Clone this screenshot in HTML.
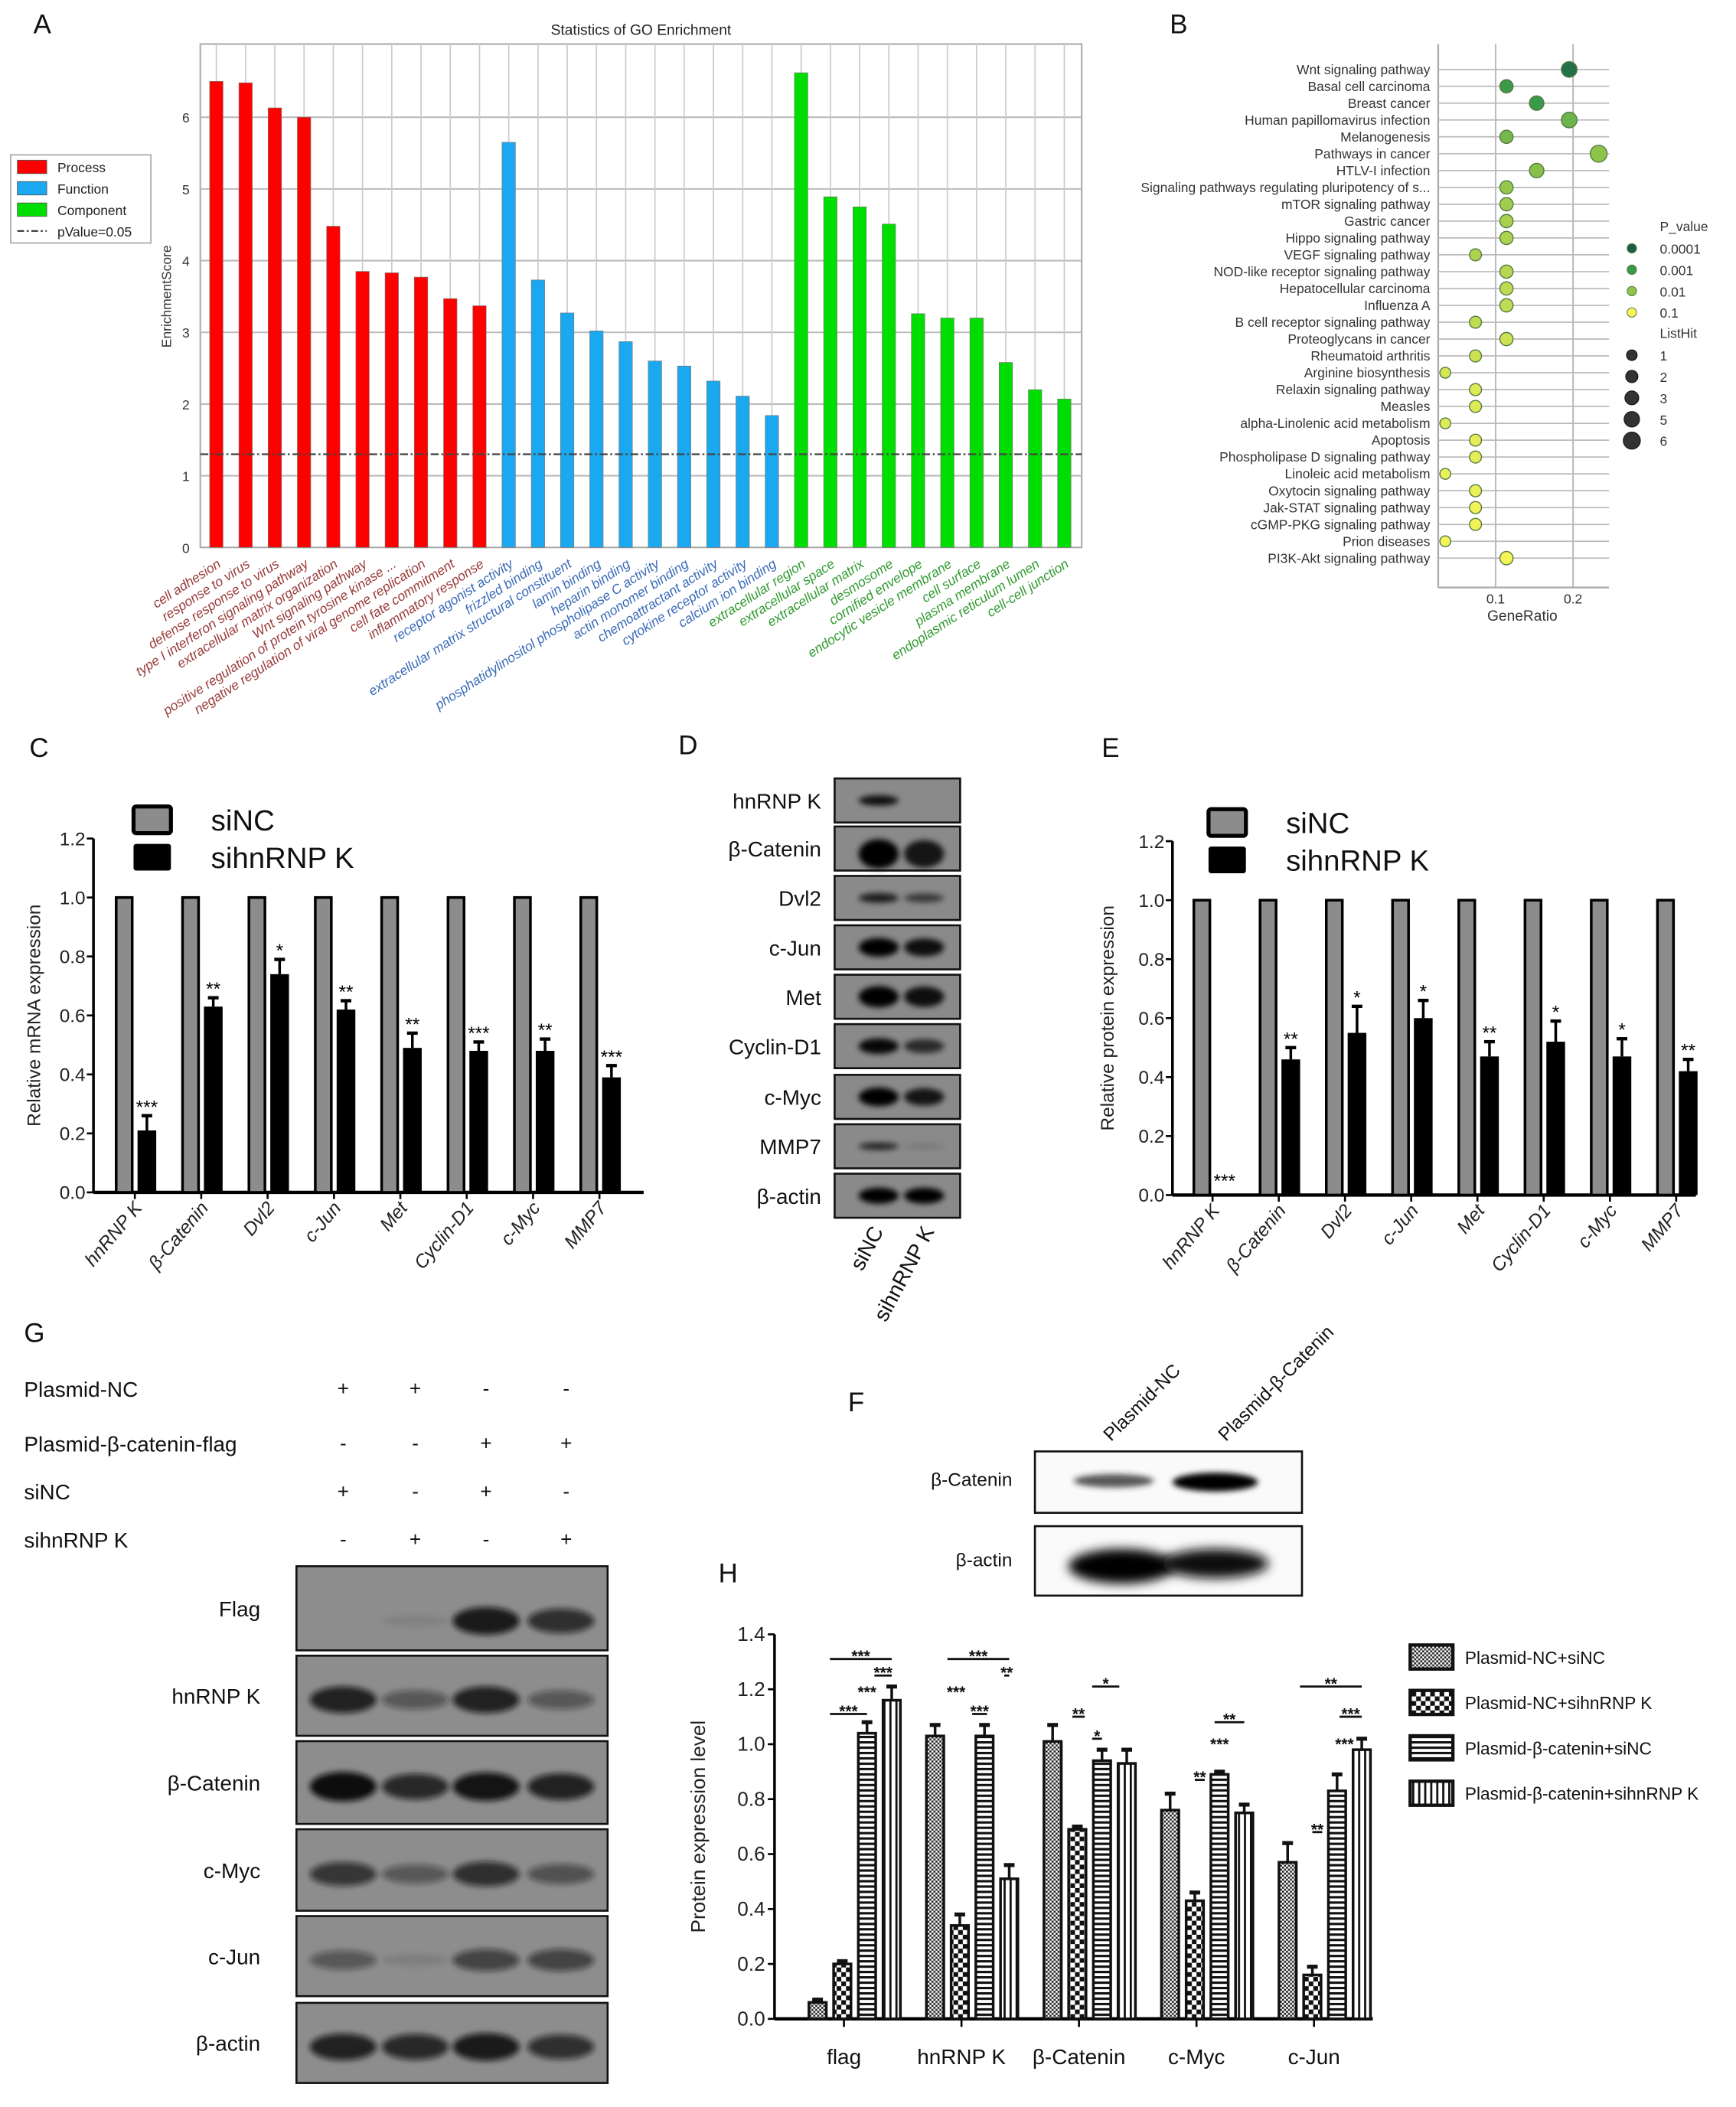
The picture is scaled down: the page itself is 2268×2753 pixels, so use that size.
<!DOCTYPE html>
<html><head><meta charset="utf-8"><style>
html,body{margin:0;padding:0;background:#fff;}
svg{display:block;font-family:"Liberation Sans",Arial,sans-serif;}
</style></head><body>
<svg id="fig" width="2268" height="2753" viewBox="0 0 1300 1578" preserveAspectRatio="none" xmlns="http://www.w3.org/2000/svg">
<defs>
<filter id="blur1" x="-30%" y="-80%" width="160%" height="260%"><feGaussianBlur stdDeviation="2.2"/></filter>
<filter id="blur2" x="-30%" y="-80%" width="160%" height="260%"><feGaussianBlur stdDeviation="4"/></filter>
<pattern id="pat0" width="3" height="3" patternUnits="userSpaceOnUse"><rect width="3" height="3" fill="#fff"/><rect width="1.5" height="1.5" fill="#222"/><rect x="1.5" y="1.5" width="1.5" height="1.5" fill="#222"/></pattern>
<pattern id="pat1" width="7" height="7" patternUnits="userSpaceOnUse"><rect width="7" height="7" fill="#fff"/><rect width="3.5" height="3.5" fill="#111"/><rect x="3.5" y="3.5" width="3.5" height="3.5" fill="#111"/></pattern>
<pattern id="pat2" width="4" height="4" patternUnits="userSpaceOnUse"><rect width="4" height="4" fill="#fff"/><rect width="4" height="1.8" fill="#111"/></pattern>
<pattern id="pat3" width="4.5" height="4" patternUnits="userSpaceOnUse"><rect width="4.5" height="4" fill="#fff"/><rect width="1.6" height="4" fill="#111"/></pattern>
</defs>
<g id="root"></g>
</svg>
<script>
// ---------- DATA ----------
const goTerms = ["cell adhesion","response to virus","defense response to virus","type I interferon signaling pathway","extracellular matrix organization","Wnt signaling pathway","positive regulation of protein tyrosine kinase ...","negative regulation of viral genome replication","cell fate commitment","inflammatory response","receptor agonist activity","frizzled binding","extracellular matrix structural constituent","lamin binding","heparin binding","phosphatidylinositol phospholipase C activity","actin monomer binding","chemoattractant activity","cytokine receptor activity","calcium ion binding","extracellular region","extracellular space","extracellular matrix","desmosome","cornified envelope","endocytic vesicle membrane","cell surface","plasma membrane","endoplasmic reticulum lumen","cell-cell junction"];
const goScores = [6.5,6.48,6.13,6.0,4.48,3.85,3.83,3.77,3.47,3.37,5.65,3.73,3.27,3.02,2.87,2.6,2.53,2.32,2.11,1.84,6.62,4.89,4.75,4.51,3.26,3.2,3.2,2.58,2.2,2.07];
const goClass = [0,0,0,0,0,0,0,0,0,0,1,1,1,1,1,1,1,1,1,1,2,2,2,2,2,2,2,2,2,2];
const goTicks = [0,1,2,3,4,5,6];
const goThreshold = 1.3;

const keggTerms = ["Wnt signaling pathway","Basal cell carcinoma","Breast cancer","Human papillomavirus infection","Melanogenesis","Pathways in cancer","HTLV-I infection","Signaling pathways regulating pluripotency of s...","mTOR signaling pathway","Gastric cancer","Hippo signaling pathway","VEGF signaling pathway","NOD-like receptor signaling pathway","Hepatocellular carcinoma","Influenza A","B cell receptor signaling pathway","Proteoglycans in cancer","Rheumatoid arthritis","Arginine biosynthesis","Relaxin signaling pathway","Measles","alpha-Linolenic acid metabolism","Apoptosis","Phospholipase D signaling pathway","Linoleic acid metabolism","Oxytocin signaling pathway","Jak-STAT signaling pathway","cGMP-PKG signaling pathway","Prion diseases","PI3K-Akt signaling pathway"];
const keggRatio = [0.195,0.114,0.153,0.195,0.114,0.233,0.153,0.114,0.114,0.114,0.114,0.074,0.114,0.114,0.114,0.074,0.114,0.074,0.035,0.074,0.074,0.035,0.074,0.074,0.035,0.074,0.074,0.074,0.035,0.114];
const keggP = [0.0002,0.001,0.001,0.004,0.005,0.01,0.008,0.012,0.015,0.018,0.02,0.02,0.025,0.03,0.03,0.03,0.04,0.04,0.05,0.06,0.06,0.06,0.07,0.07,0.08,0.08,0.09,0.09,0.1,0.1];
const keggHits = [5,3,4,5,3,6,4,3,3,3,3,2,3,3,3,2,3,2,1,2,2,1,2,2,1,2,2,2,1,3];
const keggXTicks = [0.1,0.2];

const genesC = ["hnRNP K","β-Catenin","Dvl2","c-Jun","Met","Cyclin-D1","c-Myc","MMP7"];
const mrnaNC = [1,1,1,1,1,1,1,1];
const mrnaKD = [0.21,0.63,0.74,0.62,0.49,0.48,0.48,0.39];
const mrnaErr = [0.05,0.03,0.05,0.03,0.05,0.03,0.04,0.04];
const mrnaStars = ["***","**","*","**","**","***","**","***"];
const protNC = [1,1,1,1,1,1,1,1];
const protKD = [0,0.46,0.55,0.6,0.47,0.52,0.47,0.42];
const protErr = [0,0.04,0.09,0.06,0.05,0.07,0.06,0.04];
const protStars = ["***","**","*","*","**","*","*","**"];
const ticksC = [0,0.2,0.4,0.6,0.8,1.0,1.2];

const blotD = ["hnRNP K","β-Catenin","Dvl2","c-Jun","Met","Cyclin-D1","c-Myc","MMP7","β-actin"];
const blotDLane1 = [0.9,1,0.8,1,1,0.95,1,0.75,1];
const blotDLane2 = [0,0.85,0.6,0.9,0.9,0.7,0.85,0.15,1];

const condNames = ["Plasmid-NC","Plasmid-β-catenin-flag","siNC","sihnRNP K"];
const condSigns = [["+","+","-","-"],["-","-","+","+"],["+","-","+","-"],["-","+","-","+"]];
const blotG = ["Flag","hnRNP K","β-Catenin","c-Myc","c-Jun","β-actin"];
const blotGInt = [[0,0.08,0.9,0.75],[0.85,0.45,0.85,0.45],[1,0.8,0.95,0.85],[0.7,0.45,0.75,0.5],[0.45,0.1,0.6,0.6],[0.85,0.8,0.9,0.75]];

const groupsH = ["flag","hnRNP K","β-Catenin","c-Myc","c-Jun"];
const seriesNames = ["Plasmid-NC+siNC","Plasmid-NC+sihnRNP K","Plasmid-β-catenin+siNC","Plasmid-β-catenin+sihnRNP K"];
const hS0 = [0.06,1.03,1.01,0.76,0.57];
const hS1 = [0.2,0.34,0.69,0.43,0.16];
const hS2 = [1.04,1.03,0.94,0.89,0.83];
const hS3 = [1.16,0.51,0.93,0.75,0.98];
const hE0 = [0.01,0.04,0.06,0.06,0.07];
const hE1 = [0.01,0.04,0.01,0.03,0.03];
const hE2 = [0.04,0.04,0.04,0.01,0.06];
const hE3 = [0.05,0.05,0.05,0.03,0.04];
const ticksH = [0,0.2,0.4,0.6,0.8,1.0,1.2,1.4];
// significance: [group, barFrom, barTo, value, stars, hasLine]
const sigH = [[0,-1,1.5,1.31,"***",1],[0,0.8,1.5,1.25,"***",1],[0,0.2,0.8,1.18,"***",0],[0,-1,0.5,1.11,"***",1],
 [1,-1,1.5,1.31,"***",1],[1,1.3,1.5,1.25,"**",1],[1,-1,-0.3,1.18,"***",0],[1,0,0.6,1.11,"***",1],
 [2,-0.7,-0.2,1.1,"**",1],[2,0.1,1.2,1.21,"*",1],[2,0.1,0.5,1.02,"*",1],
 [3,0.3,1.5,1.08,"**",1],[3,0.3,0.7,0.99,"***",0],[3,-0.5,-0.1,0.87,"**",1],
 [4,-1,1.5,1.21,"**",1],[4,0.6,1.5,1.1,"***",1],[4,0.6,1,0.99,"***",0],[4,-0.5,-0.1,0.68,"**",1]];

// ---------- HELPERS ----------
const NS="http://www.w3.org/2000/svg";
const root=document.getElementById('root');
function mk(tag,attrs,parent){const e=document.createElementNS(NS,tag);for(const k in attrs)e.setAttribute(k,attrs[k]);(parent||root).appendChild(e);return e;}
function txt(s,attrs,parent){const e=mk('text',attrs,parent);e.textContent=s;return e;}
function grp(parent){return mk('g',{},parent);}

// panel letters
[["A",25,25],["B",876,25],["C",22,567],["D",508,565],["E",825,567],["G",18,1005],["F",635,1057],["H",538,1185]].forEach(p=>{
 const t=txt(p[0],{x:p[1],y:p[2],'font-size':20,fill:'#111'});
 
 
});

// ---------- PANEL A ----------
(function(){
 const g=grp();
 const L=150,R=810,T=33,B=410;
 const yA=v=>B-v*53.7;
 const xA=i=>162+i*((797-162)/(goScores.length-1));
 const cols=['#ff0000','#1aa8f0','#00dd00'];
 const lcols=['#9a3a3a','#3a6ab8','#2f9a2f'];
 txt("Statistics of GO Enrichment",{x:480,y:26,'font-size':11,'text-anchor':'middle',fill:'#222'},g);
 mk('rect',{x:L,y:T,width:R-L,height:B-T,fill:'#fff',stroke:'#aaa','stroke-width':1.2},g);
 goTicks.forEach(t=>{
  if(t>0){const l=mk('line',{x1:L,x2:R,y1:yA(t),y2:yA(t),stroke:'#bbb','stroke-width':1.2},g);}
  const tl=txt(String(t),{x:L-8,y:yA(t)+4,'font-size':10,'text-anchor':'end',fill:'#333'},g);
  
 });
 goScores.forEach((v,i)=>{
  const vl=mk('line',{x1:xA(i),x2:xA(i),y1:T,y2:yA(v),stroke:'#ccc','stroke-width':1},g);
  
  const r=mk('rect',{x:xA(i)-5,y:yA(v),width:10,height:v*53.7,fill:cols[goClass[i]],stroke:'#777','stroke-width':0.4},g);
  
  
  const t=txt(goTerms[i],{x:xA(i)+4,y:424,'font-size':10,'font-style':'italic','text-anchor':'end',fill:lcols[goClass[i]],transform:`rotate(-33 ${xA(i)+4} 424)`},g);
  
 });
 const th=mk('line',{x1:L,x2:R,y1:yA(goThreshold),y2:yA(goThreshold),stroke:'#444','stroke-width':1.3,'stroke-dasharray':'6 2 1.5 2'},g);
 
 txt("EnrichmentScore",{x:128,y:222,'font-size':10,'text-anchor':'middle',fill:'#333',transform:'rotate(-90 128 222)'},g);
 const lg=grp(g);
 mk('rect',{x:8,y:116,width:105,height:66,fill:'#fff',stroke:'#aaa','stroke-width':1},lg);
 ["Process","Function","Component"].forEach((n,i)=>{
  mk('rect',{x:13,y:120+i*16,width:22,height:10,fill:cols[i],stroke:'#555','stroke-width':0.5},lg);
  txt(n,{x:43,y:129+i*16,'font-size':10,fill:'#222'},lg);
 });
 mk('line',{x1:13,x2:35,y1:173,y2:173,stroke:'#333','stroke-width':1.2,'stroke-dasharray':'5 2 1.5 2'},lg);
 txt("pValue=0.05",{x:43,y:177,'font-size':10,fill:'#222'},lg);
})();

// ---------- PANEL B ----------
(function(){
 const g=grp();
 const L=1077,R=1205,T=33,B=440;
 const xB=v=>1120+(v-0.1)*580;
 const yB=i=>52+i*((418-52)/(keggTerms.length-1));
 const stops=[[-4,[26,94,70]],[-3,[58,154,74]],[-2,[142,196,74]],[-1,[245,245,90]]];
 function pc(p){const lp=Math.max(-4,Math.min(-1,Math.log10(p)));for(let k=0;k<3;k++){if(lp<=stops[k+1][0]){const f=(lp-stops[k][0]);const a=stops[k][1],b=stops[k+1][1];return `rgb(${a.map((c,j)=>Math.round(c+(b[j]-c)*f)).join(',')})`;}}return 'rgb(245,245,90)';}
 keggXTicks.forEach(t=>{
  mk('line',{x1:xB(t),x2:xB(t),y1:T,y2:B,stroke:'#bbb','stroke-width':1.2},g);
  txt(String(t),{x:xB(t),y:452,'font-size':10,'text-anchor':'middle',fill:'#333'},g);
 });
 mk('line',{x1:L,x2:L,y1:T,y2:B,stroke:'#aaa','stroke-width':1.3},g);
 mk('line',{x1:L,x2:R,y1:B,y2:B,stroke:'#aaa','stroke-width':1.3},g);
 keggTerms.forEach((n,i)=>{
  mk('line',{x1:L,x2:R,y1:yB(i),y2:yB(i),stroke:'#bbb','stroke-width':1},g);
  txt(n,{x:1071,y:yB(i)+3.5,'font-size':10,'text-anchor':'end',fill:'#333'},g);
 });
 keggTerms.forEach((n,i)=>{
  const c=mk('circle',{cx:xB(keggRatio[i]),cy:yB(i),r:3.6+keggHits[i]*0.45,fill:pc(keggP[i]),stroke:'#557a44','stroke-width':0.8},g);
  
  
 });
 txt("GeneRatio",{x:1140,y:465,'font-size':11,'text-anchor':'middle',fill:'#333'},g);
 const lg=grp(g);
 txt("P_value",{x:1243,y:173,'font-size':10,fill:'#333'},lg);
 [0.0001,0.001,0.01,0.1].forEach((p,i)=>{
  mk('circle',{cx:1222,cy:186+i*16,r:3.5,fill:pc(p),stroke:'#557a44','stroke-width':0.6},lg);
  txt(String(p),{x:1243,y:190+i*16,'font-size':10,fill:'#333'},lg);
 });
 txt("ListHit",{x:1243,y:253,'font-size':10,fill:'#333'},lg);
 [1,2,3,5,6].forEach((h,i)=>{
  mk('circle',{cx:1222,cy:266+i*16,r:4+i*0.6,fill:'#333',stroke:'#111','stroke-width':0.6},lg);
  txt(String(h),{x:1243,y:270+i*16,'font-size':10,fill:'#333'},lg);
 });
})();

// ---------- PANELS C & E ----------
function barPanel(opts){
 const g=grp();
 const L=opts.L,B=opts.B,T=opts.T,R=opts.R;
 const y=v=>B-v*((B-T)/1.2);
 const x=i=>opts.x0+i*opts.dx;
 mk('line',{x1:L,x2:L,y1:T,y2:B,stroke:'#000','stroke-width':2},g);
 mk('line',{x1:L,x2:R,y1:B,y2:B,stroke:'#000','stroke-width':2.5},g);
 ticksC.forEach(t=>{
  mk('line',{x1:L-5,x2:L,y1:y(t),y2:y(t),stroke:'#000','stroke-width':1.5},g);
  txt(t.toFixed(1),{x:L-6,y:y(t)+5,'font-size':14,'text-anchor':'end',fill:'#222'},g);
 });
 genesC.forEach((n,i)=>{
  const cx=x(i);
  const r1=mk('rect',{x:cx-6,y:y(opts.nc[i]),width:12,height:B-y(opts.nc[i]),fill:'#8c8c8c',stroke:'#000','stroke-width':2},g);
  
  
  const v=opts.kd[i];
  if(v>0){
   const r2=mk('rect',{x:cx+10,y:y(v),width:14,height:B-y(v),fill:'#000'},g);
   
   
   const ey=y(v+opts.err[i]);
   mk('line',{x1:cx+17,x2:cx+17,y1:ey,y2:y(v),stroke:'#000','stroke-width':2},g);
   mk('line',{x1:cx+13,x2:cx+21,y1:ey,y2:ey,stroke:'#000','stroke-width':2.5},g);
  }
  const st=txt(opts.stars[i],{x:cx+17,y:y(v+opts.err[i])-2+(v>0?0:-4),'font-size':14,'text-anchor':'middle',fill:'#000'},g);
  
  mk('line',{x1:cx+8,x2:cx+8,y1:B,y2:B+5,stroke:'#000','stroke-width':1.5},g);
  const lx=cx+14,ly=B+12;
  txt(n,{x:lx,y:ly,'font-size':14,'font-style':'italic','text-anchor':'end',fill:'#222',transform:`rotate(-50 ${lx} ${ly})`},g);
 });
 txt(opts.ytitle,{x:opts.tx,y:(T+B)/2,'font-size':14,'text-anchor':'middle',fill:'#222',transform:`rotate(-90 ${opts.tx} ${(T+B)/2})`},g);
 const lg=grp(g);
 mk('rect',{x:opts.lgx,y:opts.lgy,width:28,height:20,fill:'#8c8c8c',stroke:'#000','stroke-width':3,rx:2},lg);
 txt("siNC",{x:opts.lgx+58,y:opts.lgy+18,'font-size':22,fill:'#111'},lg);
 mk('rect',{x:opts.lgx,y:opts.lgy+28,width:28,height:20,fill:'#000',rx:2},lg);
 txt("sihnRNP K",{x:opts.lgx+58,y:opts.lgy+46,'font-size':22,fill:'#111'},lg);
}
barPanel({name:'mrna-expression-chart',L:70,R:482,T:628,B:893,x0:93,dx:49.7,nc:mrnaNC,kd:mrnaKD,err:mrnaErr,stars:mrnaStars,ytitle:'Relative mRNA expression',tx:30,lgx:100,lgy:604});
barPanel({name:'protein-expression-chart',L:878,R:1270,T:630,B:895,x0:900,dx:49.6,nc:protNC,kd:protKD,err:protErr,stars:protStars,ytitle:'Relative protein expression',tx:834,lgx:905,lgy:606});

// ---------- PANEL D ----------
(function(){
 const g=grp();
 const tops=[583,619,656,693,730,767,805,842,879];
 blotD.forEach((n,i)=>{
  const t=tops[i],h=33;
  const r=mk('rect',{x:625,y:t,width:94,height:h,fill:'#8a8a8a',stroke:'#111','stroke-width':1.5},g);
  
  const bh=[4,11,4,7,8,6,7,3,6][i];
  [[658,blotDLane1[i]],[692,blotDLane2[i]]].forEach(([cx,a])=>{
   if(a>0){const e=mk('ellipse',{cx:cx,cy:t+h/2+(i==1?4:0),rx:15,ry:bh*(0.6+0.4*a),fill:'#000','fill-opacity':a,filter:'url(#blur1)'},g);}
  });
  txt(n,{x:615,y:t+h/2+6,'font-size':16,'text-anchor':'end',fill:'#111'},g);
 });
 txt("siNC",{x:662,y:922,'font-size':16,'text-anchor':'end',fill:'#111',transform:'rotate(-62 662 922)'},g);
 txt("sihnRNP K",{x:700,y:922,'font-size':16,'text-anchor':'end',fill:'#111',transform:'rotate(-62 700 922)'},g);
})();

// ---------- PANEL G ----------
(function(){
 const g=grp();
 const lanes=[257,311,364,424];
 const rows=[1040,1081,1117,1153];
 condNames.forEach((n,i)=>{
  txt(n,{x:18,y:rows[i]+6,'font-size':16,fill:'#111'},g);
  condSigns[i].forEach((s,j)=>{txt(s,{x:lanes[j],y:rows[i]+5,'font-size':15,'text-anchor':'middle',fill:'#111'},g);});
 });
 const tops=[1173,1240,1304,1370,1435,1500],hs=[63,60,62,61,60,60];
 blotGInt.forEach((row,i)=>{
  const t=tops[i],h=hs[i];
  mk('rect',{x:222,y:t,width:233,height:h,fill:'#8d8d8d',stroke:'#111','stroke-width':1.5},g);
  row.forEach((a,j)=>{
   if(a>0){const e=mk('ellipse',{cx:lanes[j]+(j==3?-4:0),cy:t+h*(i==0?0.65:0.55),rx:25,ry:4+a*7,fill:'#111','fill-opacity':a,filter:'url(#blur1)'},g);}
  });
  txt(blotG[i],{x:195,y:t+h/2+6,'font-size':16,'text-anchor':'end',fill:'#111'},g);
 });
})();

// ---------- PANEL F ----------
(function(){
 const g=grp();
 txt("Plasmid-NC",{x:832,y:1080,'font-size':14,fill:'#111',transform:'rotate(-45 832 1080)'},g);
 txt("Plasmid-β-Catenin",{x:918,y:1080,'font-size':14,fill:'#111',transform:'rotate(-45 918 1080)'},g);
 mk('rect',{x:775,y:1087,width:200,height:46,fill:'#fafafa',stroke:'#111','stroke-width':1.5},g);
 mk('rect',{x:775,y:1143,width:200,height:52,fill:'#fafafa',stroke:'#111','stroke-width':1.5},g);
 mk('ellipse',{cx:834,cy:1109,rx:30,ry:5,fill:'#222','fill-opacity':0.75,filter:'url(#blur1)'},g);
 mk('ellipse',{cx:910,cy:1110,rx:32,ry:7,fill:'#000','fill-opacity':1,filter:'url(#blur1)'},g);
 mk('ellipse',{cx:840,cy:1173,rx:40,ry:13,fill:'#000',filter:'url(#blur2)'},g);
 mk('ellipse',{cx:910,cy:1171,rx:40,ry:11,fill:'#111',filter:'url(#blur2)'},g);
 txt("β-Catenin",{x:758,y:1113,'font-size':14,'text-anchor':'end',fill:'#111'},g);
 txt("β-actin",{x:758,y:1173,'font-size':14,'text-anchor':'end',fill:'#111'},g);
})();

// ---------- PANEL H ----------
(function(){
 const g=grp();
 const L=580,R=1028,T=1224,B=1512;
 const y=v=>B-v*((B-T)/1.4);
 const gx=i=>640+i*88;
 const bx=(i,k)=>gx(i)+(k-1.5)*18.5;
 mk('line',{x1:L,x2:L,y1:T,y2:B,stroke:'#000','stroke-width':2},g);
 mk('line',{x1:L,x2:R,y1:B,y2:B,stroke:'#000','stroke-width':2.5},g);
 ticksH.forEach(t=>{
  mk('line',{x1:L-5,x2:L,y1:y(t),y2:y(t),stroke:'#000','stroke-width':1.5},g);
  txt(t.toFixed(1),{x:L-7,y:y(t)+5,'font-size':15,'text-anchor':'end',fill:'#222'},g);
 });
 const S=[hS0,hS1,hS2,hS3],E=[hE0,hE1,hE2,hE3];
 groupsH.forEach((n,i)=>{
  mk('line',{x1:gx(i)-8,x2:gx(i)-8,y1:B,y2:B+6,stroke:'#000','stroke-width':1.5},g);
  txt(n,{x:gx(i)-8,y:B+34,'font-size':16,'text-anchor':'middle',fill:'#111'},g);
  S.forEach((s,k)=>{
   const v=s[i],cx=bx(i,k);
   const r=mk('rect',{x:cx-6.5,y:y(v),width:13,height:B-y(v),fill:`url(#pat${k})`,stroke:'#111','stroke-width':2},g);
   
   
   const ey=y(v+E[k][i]);
   mk('line',{x1:cx,x2:cx,y1:ey,y2:y(v),stroke:'#111','stroke-width':2},g);
   mk('line',{x1:cx-4,x2:cx+4,y1:ey,y2:ey,stroke:'#111','stroke-width':3},g);
  });
 });
 sigH.forEach(s=>{
  const x1=gx(s[0])+s[1]*18.5,x2=gx(s[0])+s[2]*18.5,yy=y(s[3]);
  if(s[5]){const l=mk('line',{x1:x1,x2:x2,y1:yy,y2:yy,stroke:'#111','stroke-width':1.6},g);}
  txt(s[4],{x:(x1+x2)/2,y:yy+2,'font-size':12,'font-weight':'bold','text-anchor':'middle',fill:'#111'},g);
 });
 txt("Protein expression level",{x:528,y:(T+B)/2,'font-size':15,'text-anchor':'middle',fill:'#222',transform:`rotate(-90 528 ${(T+B)/2})`},g);
 const lg=grp(g);
 seriesNames.forEach((n,k)=>{
  const yy=1232+k*34;
  mk('rect',{x:1056,y:yy,width:32,height:18,fill:`url(#pat${k})`,stroke:'#111','stroke-width':2.5},lg);
  txt(n,{x:1097,y:yy+14,'font-size':13,fill:'#111'},lg);
 });
})();
</script>
</body></html>
